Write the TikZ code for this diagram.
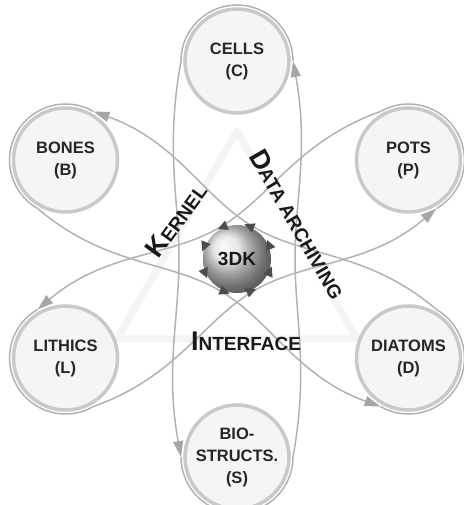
\documentclass[tikz,border=0pt]{standalone}
\usepackage{fontspec}
\setmainfont{Liberation Sans}
\usetikzlibrary{arrows.meta,calc,shadings}

% one orbit, drawn along the local x axis and then turned by #1;
% its ends wrap the two circles at (198,0) and (-198,0), #2 is its waist
\newcommand\orbitloop[2]{%
  \begin{scope}[rotate=#1]
    \coordinate (e1) at (198,0);
    \coordinate (e2) at (-198,0);
    \draw[orbit] ($(e1)+(0,-56)$) arc[start angle=-90, end angle=90, radius=56];
    \draw[orbit] ($(e2)+(0,56)$) arc[start angle=90, end angle=270, radius=56];
    \draw[orbit, tip] ($(e1)+(0,56)$) .. controls (110,72) and (60,#2) .. (0,#2)
                     .. controls (-60,#2) and (-110,72) .. ($(e2)+(0,56)$);
    \draw[orbit, tip] ($(e2)+(0,-56)$) .. controls (-110,-72) and (-60,-#2) .. (0,-#2)
                     .. controls (60,-#2) and (110,-72) .. ($(e1)+(0,-56)$);
  \end{scope}
}

\begin{document}
\begin{tikzpicture}[x=1pt, y=1pt,
  planet/.style={circle, minimum size=104pt, inner sep=0pt, draw=gray!42,
    line width=3.5pt, fill=gray!8, align=center, text=black!85,
    font=\fontsize{16.5}{22}\selectfont\bfseries},
  orbit/.style={draw=gray!60, line width=1.5pt},
  tip/.style={-{Triangle[length=16pt, width=10pt, fill=gray!70, color=gray!70]}},
  bigword/.style={inner sep=0pt, text=black!90, font=\bfseries},
]
\useasboundingbox (-237,-246) rectangle (226,259);
\fill[white] (-237,-246) rectangle (226,259);

% faint triangle behind everything
\coordinate (tA) at (0,128);
\coordinate (tB) at (-120,-80);
\coordinate (tC) at (120,-80);
\draw[gray!9, line width=7pt, line join=round] (tA) -- (tB) -- (tC) -- cycle;

% the three orbits
\orbitloop{90}{58}
\orbitloop{150}{36}
\orbitloop{30}{36}

% the six outer circles
\node[planet] (C) at (90:198)  {CELLS\\(C)};
\node[planet] (P) at (30:198)  {POTS\\(P)};
\node[planet] (D) at (-30:198) {DIATOMS\\(D)};
\node[planet] (S) at (-90:198) {BIO-\\STRUCTS.\\(S)};
\node[planet] (L) at (210:198) {LITHICS\\(L)};
\node[planet] (B) at (150:198) {BONES\\(B)};

% central sphere with its ring of arrow marks
\shade[ball color=gray!25] (0,0) circle (34);
\foreach \a in {23,68,113,158,203,248,293,338}
  \fill[black!70, rotate=\a] (30,-4) -- (40,-4) -- (35,6) -- cycle;
\node[bigword, font=\fontsize{19}{19}\selectfont\bfseries] (K) at (0,0) {3DK};

% the three labels
\node[bigword, rotate=54] (kern) at (-61,39)
  {{\fontsize{27}{27}\selectfont K}{\fontsize{19}{19}\selectfont ERNEL}};
\node[bigword, rotate=-60] (arch) at (61,35)
  {{\fontsize{27}{27}\selectfont D}{\fontsize{19}{19}\selectfont ATA ARCHIVING}};
\node[bigword] (intf) at (9,-82)
  {{\fontsize{27}{27}\selectfont I}{\fontsize{19}{19}\selectfont NTERFACE}};
\end{tikzpicture}
\end{document}
